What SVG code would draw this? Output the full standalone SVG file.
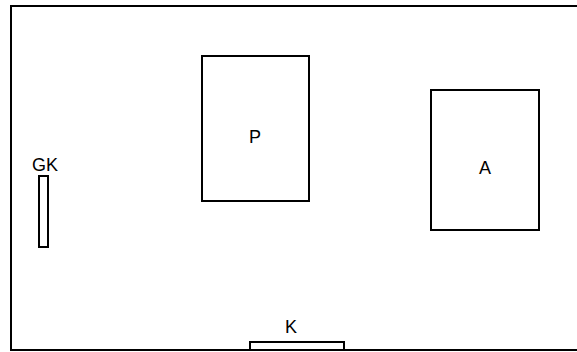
<svg xmlns="http://www.w3.org/2000/svg" width="577" height="352" viewBox="0 0 577 352">
<style>
.box{fill:#fff;stroke:#000;stroke-width:2}
.lbl{font-family:"Liberation Sans",Arial,sans-serif;font-size:18px;fill:#000;text-anchor:middle}
</style>
<rect x="0" y="0" width="577" height="352" fill="#fff"/>
<g id="frame"><rect class="box" x="11" y="6" width="572" height="344"/></g>
<g id="P"><rect class="box" x="202" y="56" width="107" height="145"/><text class="lbl" x="255" y="143">P</text></g>
<g id="A"><rect class="box" x="431" y="90" width="108" height="140"/><text class="lbl" x="485" y="174">A</text></g>
<g id="GK"><rect class="box" x="39" y="176" width="9" height="71"/><text class="lbl" x="45" y="171">GK</text></g>
<g id="K"><rect class="box" x="250" y="342" width="94" height="8"/><text class="lbl" x="291" y="333">K</text></g>
<g id="connectors"></g>
</svg>
